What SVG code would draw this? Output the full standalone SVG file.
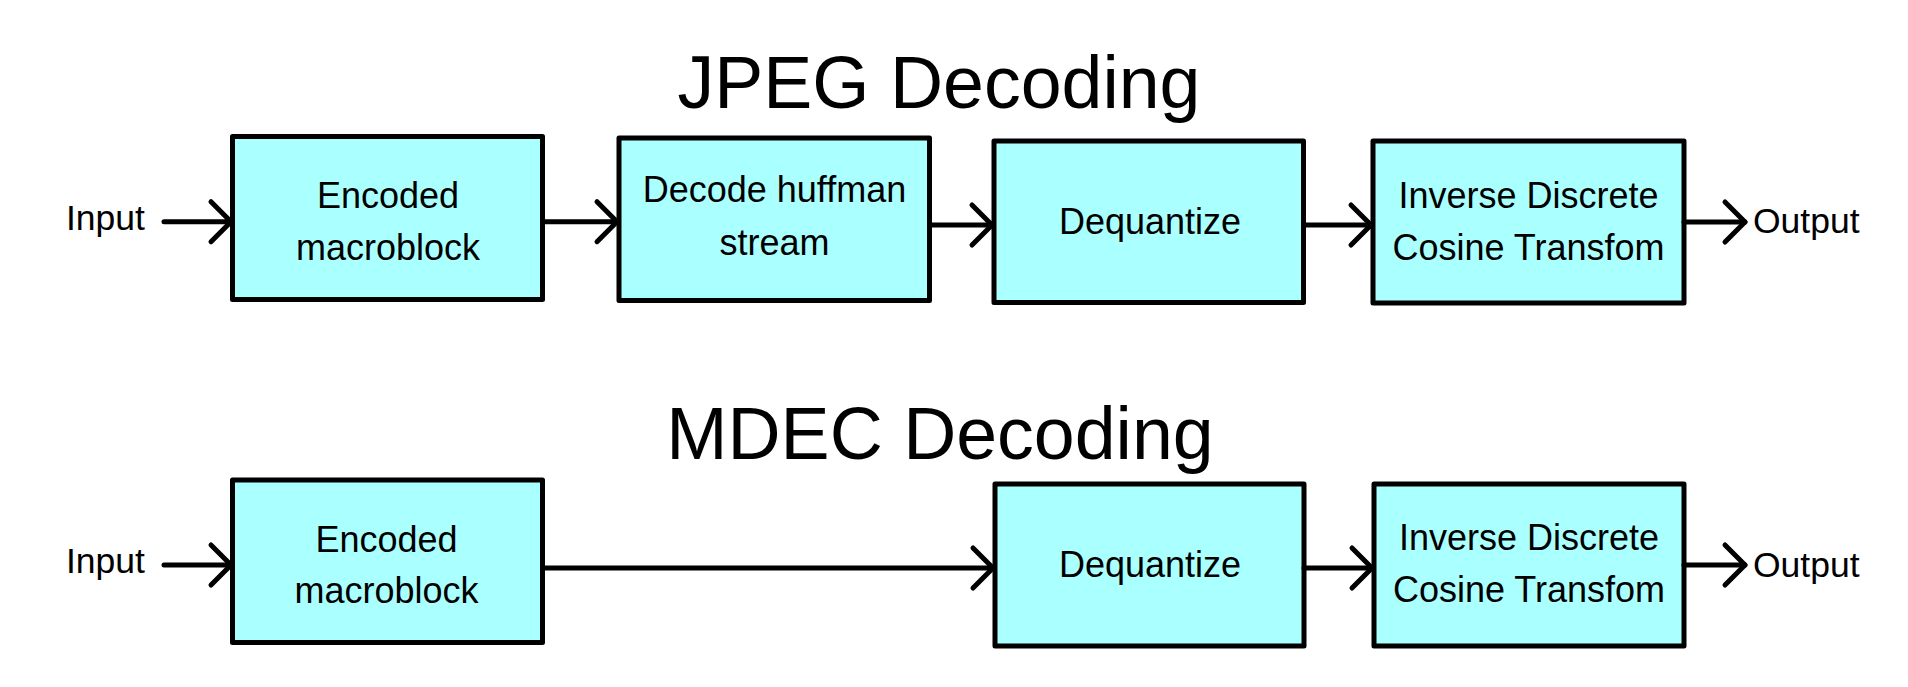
<svg xmlns="http://www.w3.org/2000/svg" width="1908" height="687" viewBox="0 0 1908 687">
<style>
  .box { fill: #aaffff; stroke: #000; stroke-width: 5; stroke-linejoin: round; }
  .lbl { font-family: "Liberation Sans", Arial, sans-serif; font-size: 36px; fill: #000; text-anchor: middle; }
  .side { font-family: "Liberation Sans", Arial, sans-serif; font-size: 35.5px; fill: #000; }
  .title { font-family: "Liberation Sans", Arial, sans-serif; font-size: 73.5px; fill: #000; text-anchor: middle; }
  .conn { fill: none; stroke: #000; stroke-width: 5; stroke-linecap: round; marker-end: url(#chev); }
</style>
<defs>
  <marker id="chev" markerUnits="userSpaceOnUse" markerWidth="30" markerHeight="50" viewBox="-25 -25 30 50" refX="0" refY="0" orient="auto" overflow="visible">
    <path d="M-20,-20 L0,0 L-20,20" fill="none" stroke="#000" stroke-width="5" stroke-linecap="round" stroke-linejoin="round"/>
  </marker>
</defs>
<rect width="1908" height="687" fill="#fff"/>

<text class="title" x="939" y="108">JPEG Decoding</text>
<text class="title" x="940" y="459">MDEC Decoding</text>

<g id="jpeg-input"><text class="side" x="66" y="230">Input</text></g>
<g id="jpeg-output"><text class="side" x="1753" y="233">Output</text></g>
<g id="mdec-input"><text class="side" x="66" y="573">Input</text></g>
<g id="mdec-output"><text class="side" x="1753" y="577">Output</text></g>

<g id="jpeg-encoded">
  <rect class="box" x="232.5" y="136.5" width="310" height="163"/>
  <text class="lbl" x="388" y="208.3">Encoded</text>
  <text class="lbl" x="388" y="260">macroblock</text>
</g>
<g id="jpeg-huffman">
  <rect class="box" x="619" y="138" width="310.5" height="162.5"/>
  <text class="lbl" x="774.5" y="201.7">Decode huffman</text>
  <text class="lbl" x="774.5" y="255">stream</text>
</g>
<g id="jpeg-dequantize">
  <rect class="box" x="994" y="141" width="309.5" height="161.5"/>
  <text class="lbl" x="1150" y="234">Dequantize</text>
</g>
<g id="jpeg-idct">
  <rect class="box" x="1373" y="141" width="311" height="162"/>
  <text class="lbl" x="1528.5" y="208.3">Inverse Discrete</text>
  <text class="lbl" x="1528.5" y="260">Cosine Transfom</text>
</g>

<g id="mdec-encoded">
  <rect class="box" x="232.5" y="480" width="310" height="162.5"/>
  <text class="lbl" x="386.5" y="551.7">Encoded</text>
  <text class="lbl" x="386.5" y="603.3">macroblock</text>
</g>
<g id="mdec-dequantize">
  <rect class="box" x="995" y="484" width="309" height="162"/>
  <text class="lbl" x="1150" y="577">Dequantize</text>
</g>
<g id="mdec-idct">
  <rect class="box" x="1374" y="484" width="310" height="162"/>
  <text class="lbl" x="1529" y="550">Inverse Discrete</text>
  <text class="lbl" x="1529" y="602">Cosine Transfom</text>
</g>

<g id="connectors">
  <path class="conn" d="M164,221.7 L231,221.7"/>
  <path class="conn" d="M542.5,221.7 L617,221.7"/>
  <path class="conn" d="M929.5,225 L992,225"/>
  <path class="conn" d="M1303.5,225 L1371,225"/>
  <path class="conn" d="M1684,222 L1745,222"/>
  <path class="conn" d="M164,565 L231,565"/>
  <path class="conn" d="M542.5,568 L993,568"/>
  <path class="conn" d="M1304,568 L1372,568"/>
  <path class="conn" d="M1684,565 L1745,565"/>
</g>
</svg>
